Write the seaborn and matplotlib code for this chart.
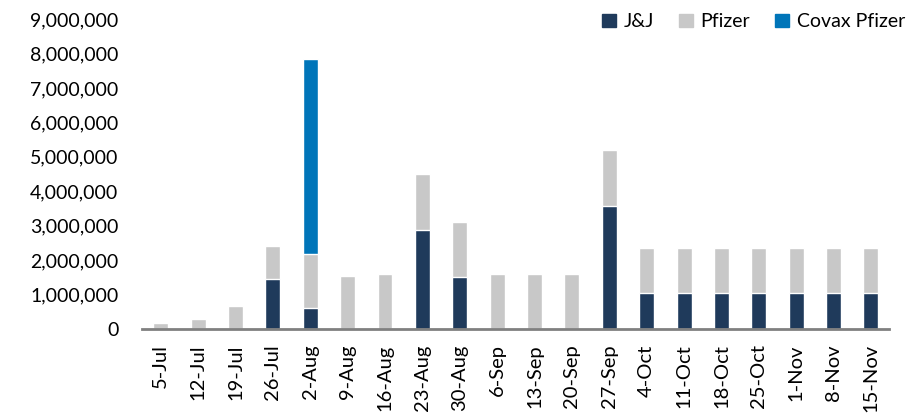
import matplotlib.pyplot as plt
import pandas as pd
import seaborn as sns
from matplotlib.patches import Patch
from matplotlib.ticker import FuncFormatter

WEEKS = ["5-Jul", "12-Jul", "19-Jul", "26-Jul", "2-Aug", "9-Aug", "16-Aug", "23-Aug",
         "30-Aug", "6-Sep", "13-Sep", "20-Sep", "27-Sep", "4-Oct", "11-Oct", "18-Oct",
         "25-Oct", "1-Nov", "8-Nov", "15-Nov"]
JNJ = [0, 0, 0, 1440000, 610000, 0, 0, 2890000, 1510000, 0, 0, 0, 3580000,
       1050000, 1050000, 1050000, 1050000, 1050000, 1050000, 1050000]
PFIZER = [175000, 290000, 660000, 980000, 1560000, 1550000, 1610000, 1610000, 1610000,
          1610000, 1610000, 1610000, 1630000, 1290000, 1290000, 1290000, 1290000,
          1290000, 1290000, 1290000]
COVAX = [0, 0, 0, 0, 5660000, 0, 0, 0, 0, 0, 0, 0, 0, 0, 0, 0, 0, 0, 0, 0]

SERIES = ["J&J", "Pfizer", "Covax Pfizer"]
COLORS = {"J&J": "#1f3a5b", "Pfizer": "#c8c8c8", "Covax Pfizer": "#0075b9"}

df = pd.DataFrame({"week": WEEKS, "J&J": JNJ, "Pfizer": PFIZER, "Covax Pfizer": COVAX})

sns.set_theme(style="white")
plt.rcParams["font.family"] = ["Lato", "DejaVu Sans"]
plt.rcParams["text.color"] = "black"
plt.rcParams["xtick.color"] = "black"
plt.rcParams["ytick.color"] = "black"

fig = plt.figure(figsize=(9.07, 4.15), dpi=100)
ax = fig.add_axes([0.1566, 0.207, 0.8234, 0.747])

# stack by drawing cumulative totals, tallest first
bottom = pd.Series(0.0, index=df.index)
for name in SERIES:
    tops = bottom + df[name]
    sns.barplot(x=df["week"], y=tops, color=COLORS[name], width=0.4, ax=ax,
                zorder=-SERIES.index(name), saturation=1, order=WEEKS)
    bottom = tops

ax.set_ylim(0, 9000000)
ax.set_xlim(-0.5, len(WEEKS) - 0.52)
ax.yaxis.set_major_formatter(FuncFormatter(lambda v, p: f"{int(v):,}"))
ax.set_yticks(range(0, 9000001, 1000000))
ax.set_xlabel("")
ax.set_ylabel("")
ax.tick_params(axis="y", labelsize=14, length=0, pad=17)
ax.tick_params(axis="x", labelsize=14.5, length=0, pad=11, rotation=90)
for s in ["top", "right", "left"]:
    ax.spines[s].set_visible(False)
ax.spines["bottom"].set_color("#808080")
ax.spines["bottom"].set_linewidth(2)

handles = [Patch(color=COLORS[s], label=s) for s in SERIES]
ax.legend(handles=handles, loc="upper right", bbox_to_anchor=(1.045, 1.075), ncol=3,
          frameon=False, fontsize=14, handlelength=0.7, handleheight=0.7,
          handletextpad=0.4, columnspacing=1.3)

fig.savefig("out.png", dpi=100)
